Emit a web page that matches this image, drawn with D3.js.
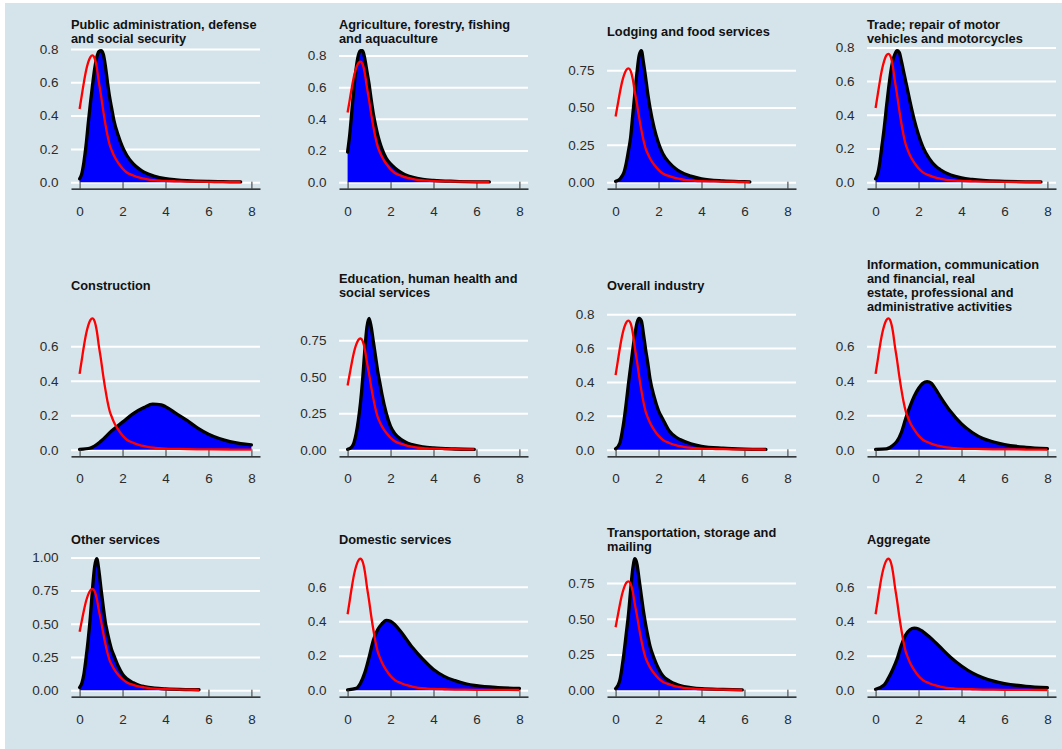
<!DOCTYPE html>
<html>
<head>
<meta charset="utf-8">
<script src="https://cdn.jsdelivr.net/npm/d3@7"></script>
<style>
  html, body { margin: 0; padding: 0; background: #ffffff; }
  svg { display: block; }
  text { font-family: "Liberation Sans", Arial, Helvetica, sans-serif; }
</style>
</head>
<body>
<div id="chart"></div>
<script>
// ---------------- DATA ----------------
const panelTitles = [
  ["Public administration, defense", "and social security"],
  ["Agriculture, forestry, fishing", "and aquaculture"],
  ["Lodging and food services"],
  ["Trade; repair of motor", "vehicles and motorcycles"],
  ["Construction"],
  ["Education, human health and", "social services"],
  ["Overall industry"],
  ["Information, communication", "and financial, real", "estate, professional and", "administrative activities"],
  ["Other services"],
  ["Domestic services"],
  ["Transportation, storage and", "mailing"],
  ["Aggregate"]
];

const xTicks = [0, 2, 4, 6, 8];

const yTicks02 = [0, 0.2, 0.4, 0.6, 0.8];
const yTicks02s = [0, 0.2, 0.4, 0.6];
const yTicks025 = [0, 0.25, 0.5, 0.75];
const yTicks025l = [0, 0.25, 0.5, 0.75, 1.0];

// reference (red) density, identical in every panel
const refCurve = [
  [0.0,0.44],[0.1,0.52],[0.2,0.60],[0.3,0.67],[0.4,0.72],[0.5,0.752],[0.6,0.762],
  [0.7,0.745],[0.8,0.69],[0.9,0.60],[1.0,0.52],[1.1,0.43],[1.2,0.35],[1.3,0.28],
  [1.4,0.225],[1.5,0.19],[1.6,0.16],[1.7,0.136],[1.8,0.116],[2.0,0.082],[2.2,0.058],
  [2.5,0.04],[2.8,0.027],[3.0,0.021],[3.3,0.0135],[3.7,0.009],[4.0,0.007],[4.5,0.005],
  [5.0,0.0035],[6.0,0.002],[7.0,0.0012],[8.0,0.0008]
];

const densPublic = [
  [0,0.02],[0.1,0.05],[0.2,0.12],[0.3,0.22],[0.4,0.35],[0.5,0.47],[0.6,0.58],[0.7,0.68],
  [0.8,0.75],[0.9,0.785],[1.0,0.79],[1.1,0.77],[1.2,0.70],[1.3,0.60],[1.4,0.51],[1.5,0.44],
  [1.6,0.37],[1.8,0.28],[2.0,0.21],[2.2,0.16],[2.5,0.11],[2.8,0.077],[3.0,0.06],[3.5,0.035],
  [4.0,0.021],[4.5,0.014],[5.0,0.009],[6.0,0.004],[7.0,0.002],[7.5,0.001]
];
const densAgri = [
  [0,0.19],[0.1,0.30],[0.2,0.45],[0.3,0.60],[0.4,0.72],[0.5,0.80],[0.6,0.83],[0.7,0.83],
  [0.8,0.78],[0.9,0.70],[1.0,0.62],[1.1,0.52],[1.2,0.43],[1.3,0.36],[1.4,0.30],[1.5,0.25],
  [1.6,0.21],[1.8,0.15],[2.0,0.115],[2.2,0.09],[2.5,0.06],[2.8,0.04],[3.0,0.032],[3.5,0.018],
  [4.0,0.011],[5.0,0.005],[6.0,0.002],[6.6,0.001]
];
const densLodging = [
  [0,0.005],[0.2,0.02],[0.3,0.04],[0.4,0.07],[0.5,0.13],[0.6,0.21],[0.7,0.30],[0.8,0.45],
  [0.9,0.60],[1.0,0.74],[1.1,0.85],[1.2,0.88],[1.3,0.80],[1.4,0.70],[1.5,0.59],[1.6,0.50],
  [1.8,0.36],[2.0,0.26],[2.2,0.19],[2.5,0.13],[2.8,0.09],[3.0,0.07],[3.5,0.04],[4.0,0.022],
  [5.0,0.008],[6.0,0.003],[6.25,0.002]
];
const densTrade = [
  [0,0.02],[0.1,0.05],[0.2,0.12],[0.3,0.22],[0.4,0.32],[0.5,0.44],[0.6,0.55],[0.7,0.65],
  [0.8,0.72],[0.9,0.76],[1.0,0.78],[1.1,0.77],[1.2,0.72],[1.3,0.66],[1.4,0.60],[1.5,0.54],
  [1.6,0.48],[1.8,0.37],[2.0,0.28],[2.2,0.21],[2.5,0.14],[2.8,0.095],[3.0,0.075],[3.5,0.042],
  [4.0,0.025],[4.5,0.016],[5.0,0.01],[6.0,0.005],[7.0,0.002],[7.7,0.001]
];
const densConstruction = [
  [0,0.002],[0.5,0.01],[1.0,0.05],[1.5,0.11],[1.8,0.14],[2.0,0.16],[2.5,0.21],[3.0,0.245],
  [3.4,0.265],[3.8,0.26],[4.0,0.25],[4.5,0.21],[5.0,0.17],[5.5,0.125],[6.0,0.09],[6.5,0.065],
  [7.0,0.047],[7.5,0.035],[8.0,0.028]
];
const densEducation = [
  [0,0.003],[0.2,0.02],[0.3,0.05],[0.4,0.11],[0.5,0.20],[0.6,0.32],[0.7,0.48],[0.8,0.68],
  [0.9,0.84],[1.0,0.90],[1.1,0.84],[1.2,0.74],[1.3,0.64],[1.4,0.54],[1.5,0.46],[1.6,0.38],
  [1.8,0.25],[2.0,0.16],[2.2,0.11],[2.5,0.07],[2.8,0.045],[3.0,0.035],[3.5,0.02],[4.0,0.012],
  [5.0,0.005],[5.9,0.002]
];
const densOverall = [
  [0,0.005],[0.2,0.04],[0.3,0.10],[0.4,0.18],[0.5,0.28],[0.6,0.39],[0.7,0.49],[0.8,0.59],
  [0.9,0.68],[1.0,0.75],[1.1,0.775],[1.2,0.76],[1.3,0.68],[1.4,0.59],[1.5,0.51],[1.6,0.42],
  [1.8,0.31],[2.0,0.23],[2.2,0.18],[2.5,0.11],[2.8,0.075],[3.0,0.06],[3.5,0.035],[4.0,0.02],
  [5.0,0.009],[6.0,0.004],[7.0,0.002]
];
const densInformation = [
  [0,0.002],[0.5,0.005],[0.8,0.025],[1.0,0.05],[1.2,0.10],[1.4,0.18],[1.6,0.25],[1.8,0.31],
  [2.0,0.355],[2.2,0.385],[2.4,0.395],[2.6,0.385],[2.8,0.35],[3.0,0.31],[3.5,0.22],[4.0,0.15],
  [4.5,0.10],[5.0,0.065],[5.5,0.045],[6.0,0.03],[7.0,0.014],[8.0,0.006]
];
const densOther = [
  [0,0.02],[0.1,0.05],[0.2,0.12],[0.3,0.24],[0.4,0.38],[0.5,0.55],[0.6,0.76],[0.7,0.93],
  [0.8,0.99],[0.9,0.90],[1.0,0.76],[1.1,0.63],[1.2,0.51],[1.3,0.43],[1.4,0.36],[1.5,0.30],
  [1.6,0.26],[1.8,0.18],[2.0,0.12],[2.2,0.085],[2.5,0.055],[2.8,0.035],[3.0,0.027],[3.5,0.015],
  [4.0,0.009],[5.0,0.004],[5.56,0.003]
];
const densDomestic = [
  [0,0.002],[0.4,0.01],[0.6,0.04],[0.8,0.10],[1.0,0.19],[1.2,0.29],[1.4,0.35],[1.6,0.385],
  [1.8,0.405],[2.0,0.40],[2.2,0.38],[2.5,0.335],[3.0,0.25],[3.5,0.18],[4.0,0.12],[4.5,0.08],
  [5.0,0.055],[5.5,0.037],[6.0,0.026],[7.0,0.015],[8.0,0.01]
];
const densTransport = [
  [0,0.01],[0.1,0.03],[0.2,0.07],[0.3,0.16],[0.4,0.27],[0.5,0.40],[0.6,0.53],[0.7,0.70],
  [0.8,0.85],[0.9,0.92],[1.0,0.88],[1.1,0.77],[1.2,0.66],[1.3,0.55],[1.4,0.46],[1.5,0.38],
  [1.6,0.31],[1.8,0.22],[2.0,0.15],[2.2,0.10],[2.5,0.065],[2.8,0.042],[3.0,0.032],[3.5,0.018],
  [4.0,0.01],[5.0,0.005],[5.9,0.002]
];
const densAggregate = [
  [0,0.005],[0.4,0.03],[0.6,0.07],[0.8,0.12],[1.0,0.18],[1.2,0.26],[1.4,0.32],[1.6,0.35],
  [1.8,0.36],[2.0,0.355],[2.2,0.34],[2.5,0.31],[3.0,0.25],[3.5,0.19],[4.0,0.14],[4.5,0.10],
  [5.0,0.072],[5.5,0.052],[6.0,0.038],[7.0,0.022],[8.0,0.014]
];

const panelDensities = [densPublic, densAgri, densLodging, densTrade,
  densConstruction, densEducation, densOverall, densInformation,
  densOther, densDomestic, densTransport, densAggregate];
const panelYTicks = [yTicks02, yTicks02, yTicks025, yTicks02,
  yTicks02s, yTicks025, yTicks02, yTicks02s,
  yTicks025l, yTicks02s, yTicks025, yTicks02s];

// ---------------- LAYOUT ----------------
const W = 1062, H = 749;
const colLeft = [71, 339, 607, 867];
const panelW = 189;
const rowBottom = [188.7, 456.3, 696.7];
const panelH = 144.5;
const titleCenter = [32, 285.7, 540];
const bg = "#d5e4eb";

const svg = d3.select("#chart").append("svg")
  .attr("width", W).attr("height", H);

svg.append("rect").attr("x", 5).attr("y", 3)
  .attr("width", W - 5).attr("height", H - 3).attr("fill", bg);

const defs = svg.append("defs");

panelDensities.forEach((dens, i) => {
  const col = i % 4, row = Math.floor(i / 4);
  const left = colLeft[col], bottom = rowBottom[row], top = bottom - panelH;
  const xEnd = dens[dens.length - 1][0];

  const x = d3.scaleLinear().domain([-0.4, 8.4]).range([0, panelW]);
  const ymax = Math.max(d3.max(dens, d => d[1]), d3.max(refCurve, d => d[1]));
  const y = d3.scaleLinear().domain([-0.05 * ymax, 1.05 * ymax]).range([panelH, 0]);

  const g = svg.append("g").attr("transform", `translate(${left},${top})`);

  // y axis with white gridlines
  const ticks = panelYTicks[i];
  const step = ticks[1] - ticks[0];
  const fmt = d3.format(Math.abs(step - 0.25) < 1e-9 ? ".2f" : ".1f");
  const yAxis = g.append("g")
    .call(d3.axisLeft(y).tickValues(ticks).tickFormat(fmt)
      .tickSizeInner(-panelW).tickSizeOuter(0).tickPadding(12.5));
  yAxis.select(".domain").remove();
  yAxis.selectAll(".tick line").attr("stroke", "#ffffff").attr("stroke-width", 2);
  yAxis.selectAll(".tick text")
    .attr("fill", "#2b2b2b").style("font-size", "13.5px");

  // density area
  const area = d3.area().x(d => x(d[0])).y0(y(0)).y1(d => y(d[1]))
    .curve(d3.curveMonotoneX);
  const line = d3.line().x(d => x(d[0])).y(d => y(d[1]))
    .curve(d3.curveMonotoneX);

  g.append("path").datum(dens).attr("d", area).attr("fill", "#0000ff");
  g.append("path").datum(dens).attr("d", line)
    .attr("fill", "none").attr("stroke", "#000000").attr("stroke-width", 3.3)
    .attr("stroke-linejoin", "round").attr("stroke-linecap", "round");

  // reference curve clipped to data range
  const clipId = "clip" + i;
  defs.append("clipPath").attr("id", clipId).append("rect")
    .attr("x", left + x(0) - 2).attr("y", top - 20)
    .attr("width", x(xEnd) - x(0) + 2).attr("height", panelH + 40);
  svg.append("g").attr("clip-path", `url(#${clipId})`)
    .append("path").datum(refCurve)
    .attr("transform", `translate(${left},${top})`)
    .attr("d", line)
    .attr("fill", "none").attr("stroke", "#ff0000").attr("stroke-width", 2.3);

  // x axis
  const xAxis = g.append("g").attr("transform", `translate(0,${panelH})`)
    .call(d3.axisBottom(x).tickValues(xTicks).tickFormat(d3.format("d"))
      .tickSizeInner(-7).tickSizeOuter(0).tickPadding(17.6));
  xAxis.select(".domain").attr("stroke", "#000000").attr("stroke-width", 1.3);
  xAxis.selectAll(".tick line").attr("stroke", "#333333").attr("stroke-width", 1);
  xAxis.selectAll(".tick text")
    .attr("fill", "#2b2b2b").style("font-size", "13.5px");

  // title
  const lines = panelTitles[i];
  const lh = 14;
  const t = svg.append("text")
    .attr("x", left).attr("y", titleCenter[row] - (lines.length - 1) / 2 * lh)
    .attr("fill", "#111111")
    .style("font-size", "12.8px").style("font-weight", "bold");
  lines.forEach((ln, k) => {
    t.append("tspan").attr("x", left)
      .attr("dy", k === 0 ? "0.35em" : lh).text(ln);
  });
});
</script>
</body>
</html>
